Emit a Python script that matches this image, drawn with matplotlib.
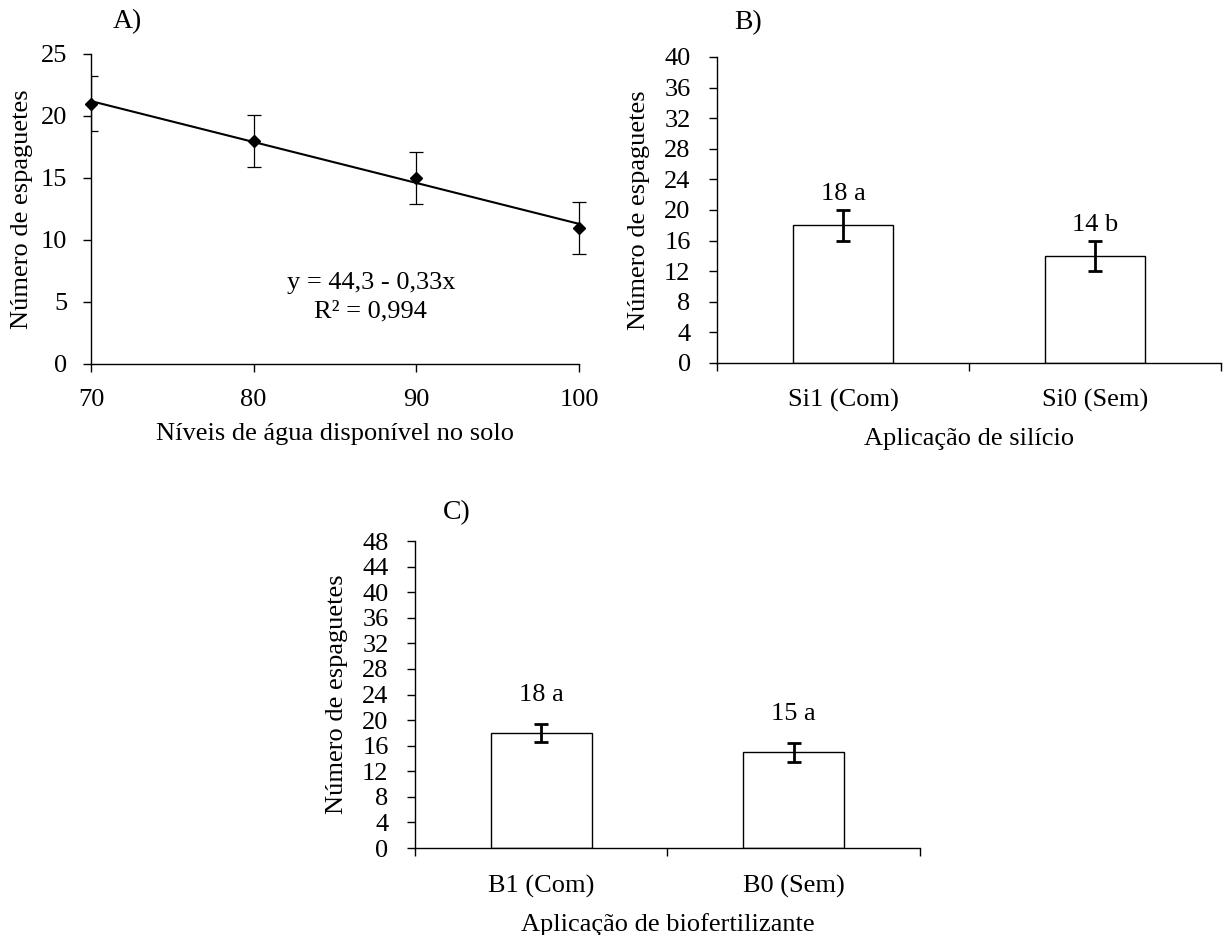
import numpy as np
import matplotlib
matplotlib.use('Agg')
import matplotlib.pyplot as plt
from matplotlib.patches import Rectangle

# Dados do painel A (níveis de água)
niveis = [70, 80, 90, 100]
esp_agua = [21, 18, 15, 11]
erro_agua = [2.2, 2.1, 2.1, 2.1]
intercepto = 44.3
inclinacao = -0.33
r2 = 0.994

# Dados do painel B (silício)
cat_silicio = ['Si1 (Com)', 'Si0 (Sem)']
esp_silicio = [18, 14]
erro_silicio = [2, 2]
letras_silicio = ['a', 'b']

# Dados do painel C (biofertilizante)
cat_bio = ['B1 (Com)', 'B0 (Sem)']
esp_bio = [18, 15]
erro_bio = [1.4, 1.5]
letras_bio = ['a', 'a']

plt.rcParams['font.family'] = ['Liberation Serif', 'DejaVu Serif']
plt.rcParams['font.size'] = 19
plt.rcParams['axes.linewidth'] = 1.0
plt.rcParams['xtick.major.width'] = 1.0
plt.rcParams['ytick.major.width'] = 1.0
plt.rcParams['xtick.major.size'] = 6
plt.rcParams['ytick.major.size'] = 6


def estilo_eixo(ax):
    ax.spines['top'].set_visible(False)
    ax.spines['right'].set_visible(False)
    ax.tick_params(direction='out')


def grafico_barras(ax, cats, vals, erros, letras, ymax, passo, folga, xlabel):
    x = np.arange(len(cats))
    ax.bar(x, vals, width=0.4, color='white', edgecolor='black', linewidth=1.0, zorder=2)
    ax.errorbar(x, vals, yerr=erros, fmt='none', ecolor='black', elinewidth=2,
                capsize=5, capthick=2, zorder=3)
    for xi, v, e, l in zip(x, vals, erros, letras):
        ax.text(xi, v + e + folga, f'{v} {l}', ha='center', va='bottom')
    ax.set_xlim(-0.5, len(cats) - 0.5)
    ax.set_ylim(0, ymax)
    ax.set_yticks(np.arange(0, ymax + 1, passo))
    # marcas nas divisões entre categorias, rótulos no centro
    ax.set_xticks(np.arange(-0.5, len(cats), 1.0))
    ax.set_xticklabels([])
    ax.set_xticks(x, minor=True)
    ax.set_xticklabels(cats, minor=True)
    estilo_eixo(ax)
    ax.tick_params(axis='x', which='minor', length=0, pad=19)
    ax.tick_params(axis='y', pad=13)
    ax.set_xlabel(xlabel, labelpad=11)
    ax.set_ylabel('Número de espaguetes', labelpad=10)


def main():
    fig = plt.figure(figsize=(12.23, 9.35), dpi=100)

    # A) regressão
    axA = fig.add_axes([0.0744, 0.6107, 0.399, 0.3316])
    xs = np.array([70, 100])
    axA.plot(xs, intercepto + inclinacao * xs, color='black', linewidth=1.5, zorder=2)
    linha, caps, barras = axA.errorbar(niveis, esp_agua, yerr=erro_agua, fmt='D',
                                       color='black', markersize=6.5, ecolor='black',
                                       elinewidth=0.9, capsize=5, capthick=0.9, zorder=3)
    linha.set_clip_on(False)
    # barras de erro cortadas só à esquerda do eixo y
    for art in list(caps) + list(barras):
        art.set_clip_path(Rectangle((0, -0.1), 1.2, 1.3, transform=axA.transAxes))
    axA.set_xlim(70, 100)
    axA.set_ylim(0, 25)
    axA.set_xticks([70, 80, 90, 100])
    axA.set_yticks([0, 5, 10, 15, 20, 25])
    estilo_eixo(axA)
    axA.tick_params(axis='x', pad=12)
    axA.tick_params(axis='y', pad=11)
    axA.set_xlabel('Níveis de água disponível no solo', labelpad=9)
    axA.set_ylabel('Número de espaguetes', labelpad=6)
    axA.text(87.2, 6.5, 'y = 44,3 - 0,33x', ha='center', va='center')
    axA.text(87.2, 4.2, 'R² = 0,994', ha='center', va='center')

    # B) silício
    axB = fig.add_axes([0.5863, 0.6118, 0.4121, 0.3273])
    grafico_barras(axB, cat_silicio, esp_silicio, erro_silicio, letras_silicio,
                   40, 4, 0.6, 'Aplicação de silício')

    # C) biofertilizante
    axC = fig.add_axes([0.3393, 0.0930, 0.4129, 0.3283])
    grafico_barras(axC, cat_bio, esp_bio, erro_bio, letras_bio,
                   48, 4, 2.8, 'Aplicação de biofertilizante')

    fig.text(127 / 1223, 1 - 22 / 935, 'A)', ha='center', va='center', fontsize=20)
    fig.text(748 / 1223, 1 - 23 / 935, 'B)', ha='center', va='center', fontsize=20)
    fig.text(457 / 1223, 1 - 513 / 935, 'C)', ha='center', va='center', fontsize=20)

    fig.savefig('out.png', dpi=100, facecolor='white')


if __name__ == "__main__":
    main()
